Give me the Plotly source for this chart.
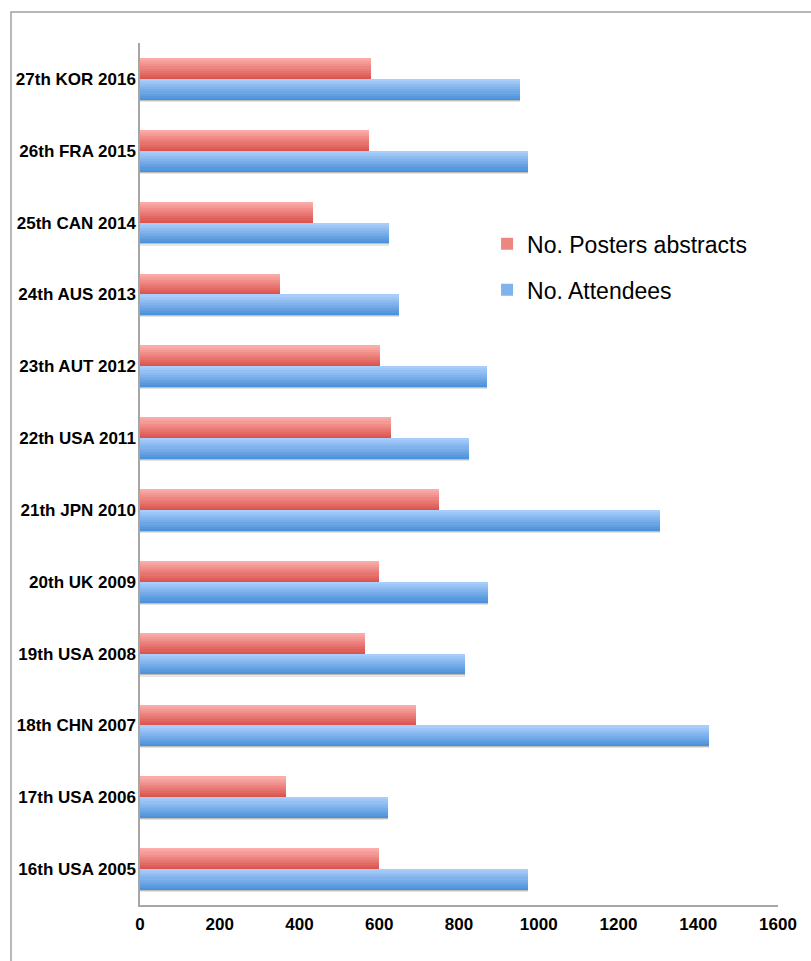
import plotly.graph_objects as go

# Meeting editions, oldest at the bottom
editions = [
    "16th USA 2005", "17th USA 2006", "18th CHN 2007", "19th USA 2008",
    "20th UK 2009", "21th JPN 2010", "22th USA 2011", "23th AUT 2012",
    "24th AUS 2013", "25th CAN 2014", "26th FRA 2015", "27th KOR 2016",
]
posters = [600, 366, 693, 564, 600, 750, 629, 602, 351, 433, 575, 580]
attendees = [974, 622, 1427, 815, 873, 1303, 825, 871, 650, 624, 974, 953]
x_ticks = [0, 200, 400, 600, 800, 1000, 1200, 1400, 1600]

BAR_W = 0.29      # thickness of each bar in category units
N_SLICES = 10     # horizontal strips used to shade each bar top-to-bottom

RED_TOP, RED_BOT = (251, 172, 169), (220, 86, 80)
BLUE_TOP, BLUE_BOT = (168, 205, 251), (78, 146, 217)


def mix(c1, c2, t):
    return "rgb(%d,%d,%d)" % tuple(round(a + (b - a) * t) for a, b in zip(c1, c2))


fig = go.Figure()

# soft shadow under the attendee bars
for k, alpha in enumerate([0.10, 0.18]):
    fig.add_trace(go.Bar(
        y=editions, x=attendees, orientation="h",
        base=0, offset=-BAR_W - 0.03 + k * 0.015, width=0.03,
        marker=dict(color=f"rgba(0,0,0,{alpha})", line_width=0),
        showlegend=False, hoverinfo="skip",
    ))


def shaded_series(values, name, top, bot, lower_edge, group):
    h = BAR_W / N_SLICES
    for i in range(N_SLICES):
        # i = 0 is the bottom strip (darkest)
        t = i / (N_SLICES - 1)
        fig.add_trace(go.Bar(
            y=editions, x=values, orientation="h",
            offset=lower_edge + i * h, width=h * 1.02,
            marker=dict(color=mix(bot, top, t), line_width=0),
            name=name, legendgroup=group,
            showlegend=(i == N_SLICES // 2),
            hovertemplate="%{y}: %{x}<extra>" + name + "</extra>",
        ))


shaded_series(posters, "No. Posters abstracts", RED_TOP, RED_BOT, 0.0, "posters")
shaded_series(attendees, "No. Attendees", BLUE_TOP, BLUE_BOT, -BAR_W, "attendees")

tick_font = dict(family="Liberation Sans Narrow, Arial Narrow, Liberation Sans, Arial",
                 size=17, color="black", weight="bold")

fig.update_layout(
    width=811, height=961,
    margin=dict(l=140, r=33, t=43, b=56),
    paper_bgcolor="white", plot_bgcolor="white",
    barmode="overlay", bargap=0,
    xaxis=dict(
        range=[0, 1600], tickvals=x_ticks, ticktext=[str(v) for v in x_ticks],
        showgrid=False, zeroline=False, showline=True, linecolor="#a6a6a6",
        linewidth=1.5, ticks="", tickfont=tick_font, ticklabelstandoff=3,
        automargin=False, fixedrange=True,
    ),
    yaxis=dict(
        type="category", categoryorder="array", categoryarray=editions,
        range=[-0.5, len(editions) - 0.5],
        showgrid=False, zeroline=False, showline=True, linecolor="#a6a6a6",
        linewidth=1.5, ticks="", tickfont=tick_font, ticklabelstandoff=-1,
        automargin=False, fixedrange=True,
    ),
    legend=dict(
        x=0.544, y=0.792, xanchor="left", yanchor="top",
        font=dict(family="Liberation Sans, Arial", size=23, color="black"),
        bgcolor="rgba(0,0,0,0)", traceorder="grouped", tracegroupgap=13,
    ),
    showlegend=True,
    shapes=[
        # outer chart frame
        dict(type="rect", xref="paper", yref="paper",
             x0=-0.2022, x1=1.2, y0=-0.2, y1=1.036,
             line=dict(color="#a0a0a0", width=1.5), layer="below"),
    ],
)

fig.write_html("out.html")
